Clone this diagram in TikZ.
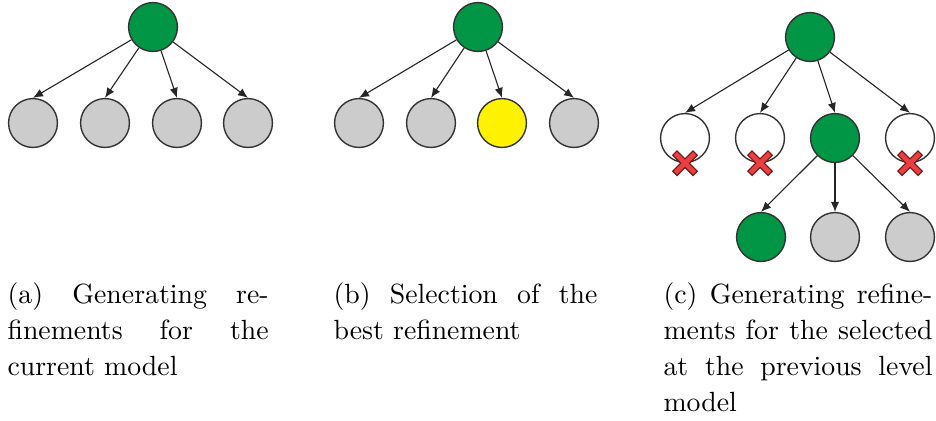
\documentclass[tikz,border=0pt]{standalone}
\usetikzlibrary{arrows.meta}
\definecolor{nodegreen}{RGB}{0,150,70}
\definecolor{nodegray}{RGB}{204,204,204}
\definecolor{crossred}{RGB}{232,64,64}
\definecolor{crossdark}{RGB}{120,20,20}
\begin{document}
\begin{tikzpicture}[x = 0.36pt, y = -0.36pt,
	model/.style = {circle, draw = black!80, line width = 0.5pt, minimum size = 17.6pt, inner sep = 0pt},
	refine/.style = {model, fill = nodegray},
	chosen/.style = {model, fill = nodegreen},
	best/.style = {model, fill = yellow},
	pruned/.style = {model, fill = white},
	edge/.style = {-{Latex[length = 3.6pt, width = 3pt]}, black!85},
	caption/.style = {anchor = north west, inner sep = 0pt, align = justify, font = \fontsize{10}{13}\selectfont}]
	\useasboundingbox (0,0) rectangle (936,420);
	% (a)
	\node [chosen](a0) at (153,27){};
	\node [refine](a1) at (33,123){};
	\node [refine](a2) at (105,123){};
	\node [refine](a3) at (177,123){};
	\node [refine](a4) at (248,123){};
	\foreach \i in {1,...,4}
		\draw [edge](a0)--(a\i.north);
	\node [caption, text width = 94pt](capa) at (7,282){(a) Generating re-\linebreak finements for the\linebreak current model};
	% (b)
	\node [chosen](b0) at (478,27){};
	\node [refine](b1) at (359,123){};
	\node [refine](b2) at (431,123){};
	\node [best](b3) at (502,123){};
	\node [refine](b4) at (574,123){};
	\foreach \i in {1,...,4}
		\draw [edge](b0)--(b\i.north);
	\node [caption, text width = 95pt](capb) at (333,282){(b) Selection of the\linebreak best refinement};
	% (c)
	\node [chosen](c0) at (810,37){};
	\node [pruned](c1) at (685,138){};
	\node [pruned](c2) at (760,138){};
	\node [chosen](c3) at (835,138){};
	\node [pruned](c4) at (910,138){};
	\node [chosen](c5) at (761,237){};
	\node [refine](c6) at (835,237){};
	\node [refine](c7) at (910,237){};
	\foreach \i in {1,...,4}
		\draw [edge](c0)--(c\i.north);
	\foreach \i in {5,6,7}
		\draw [edge](c3)--(c\i.north);
	% crosses on the pruned ones
	\foreach \i in {1,2,4}{
		\draw [crossdark, line width = 2.6pt, line cap = rect](c\i.south) ++(-8,-8)--++(16,16) (c\i.south) ++(-8,8)--++(16,-16);
		\draw [crossred, line width = 1.7pt, line cap = rect](c\i.south) ++(-8,-8)--++(16,16) (c\i.south) ++(-8,8)--++(16,-16);
	}
	\node [caption, text width = 96.8pt](capc) at (663,282){(c) Generating refine-\linebreak ments for the selected\linebreak at the previous level\linebreak model};
\end{tikzpicture}
\end{document}
